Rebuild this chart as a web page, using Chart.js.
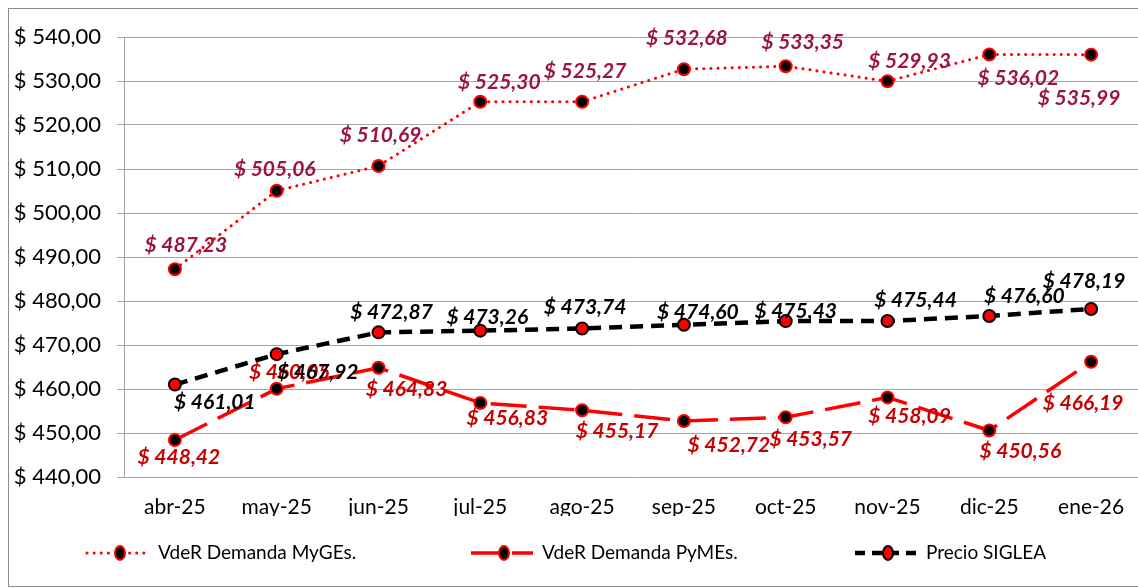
<!DOCTYPE html>
<html>
<head>
<meta charset="utf-8">
<script src="https://cdn.jsdelivr.net/npm/chart.js@4"></script>
<style>
  html, body { margin: 0; padding: 0; overflow: hidden; background: #fff; }
  #wrap { position: absolute; left: 0; top: 0; width: 1150px; height: 588px; }
</style>
</head>
<body>
<div id="wrap"><canvas id="myChart"></canvas></div>
<script>
const months = ["abr-25", "may-25", "jun-25", "jul-25", "ago-25", "sep-25", "oct-25", "nov-25", "dic-25", "ene-26"];
const mygesValues = [487.23, 505.06, 510.69, 525.30, 525.27, 532.68, 533.35, 529.93, 536.02, 535.99];
const pymesValues = [448.42, 460.05, 464.83, 456.83, 455.17, 452.72, 453.57, 458.09, 450.56, 466.19];
const sigleaValues = [461.01, 467.92, 472.87, 473.26, 473.74, 474.60, 475.43, 475.44, 476.60, 478.19];

// where each value label sits relative to its point (px)
const labelOffsets = [
  [[11, -24], [-2, -22], [2, -31], [19, -19], [3, -31], [3, -31], [17, -24], [22, -20], [29, 24], [-12, 44]],
  [[4, 17], [13, -17], [28, 21], [27, 15], [35, 21], [45, 24], [25, 22], [22, 19], [31, 21], [-8, 41]],
  [[40, 18], [41, 18], [13, -20], [7, -13], [3, -21], [14, -13], [10, -10], [28, -21], [35, -20], [-7, -28]],
];
const labelColors = ["#9b1446", "#c80000", "#000000"];
const legendX = [87, 471, 855];

const fmt = v => "$ " + v.toFixed(2).replace(".", ",");

const valueLabels = {
  id: "valueLabels",
  afterDatasetsDraw(chart) {
    const ctx = chart.ctx;
    ctx.save();
    ctx.font = "italic bold 21px Lato";
    ctx.textAlign = "center";
    ctx.textBaseline = "middle";
    chart.data.datasets.forEach((ds, i) => {
      ctx.fillStyle = labelColors[i];
      chart.getDatasetMeta(i).data.forEach((pt, j) => {
        const o = labelOffsets[i][j];
        ctx.fillText(fmt(ds.data[j]), pt.x + o[0], pt.y + o[1]);
      });
    });
    ctx.restore();
  },
  afterDraw(chart) {
    const ctx = chart.ctx;
    ctx.save();
    // frame
    ctx.strokeStyle = "#8c8c8c";
    ctx.lineWidth = 1;
    ctx.strokeRect(8.5, 8.5, 1200, 578);
    // legend
    const y = 553;
    chart.data.datasets.forEach((ds, i) => {
      const x = legendX[i];
      ctx.strokeStyle = ds.borderColor;
      ctx.lineWidth = ds.borderWidth;
      ctx.lineCap = i === 0 ? "round" : "butt";
      ctx.setLineDash(i === 0 ? [0.1, 7] : i === 1 ? [32, 9] : [10, 7]);
      ctx.beginPath();
      ctx.moveTo(x, y);
      ctx.lineTo(x + 62, y);
      ctx.stroke();
      ctx.setLineDash([]);
      ctx.fillStyle = ds.pointBackgroundColor;
      ctx.strokeStyle = ds.pointBorderColor;
      ctx.lineWidth = 2;
      ctx.beginPath();
      ctx.ellipse(x + 33, y, 5, 7, 0, 0, Math.PI * 2);
      ctx.fill();
      ctx.stroke();
      ctx.fillStyle = "#000";
      ctx.font = "19px Lato";
      ctx.textAlign = "left";
      ctx.textBaseline = "middle";
      ctx.fillText(ds.label, x + 71, y);
    });
    ctx.restore();
  },
};

const ctx = document.getElementById("myChart").getContext("2d");
const chart = new Chart(ctx, {
  type: "line",
  data: {
    labels: months,
    datasets: [
      {
        label: "VdeR Demanda MyGEs.",
        data: mygesValues,
        borderColor: "#ff0000",
        borderWidth: 3,
        borderDash: [0.1, 7],
        borderCapStyle: "round",
        pointBackgroundColor: "#000000",
        pointBorderColor: "#ff0000",
        pointBorderWidth: 2,
        pointRadius: 6,
        tension: 0,
      },
      {
        label: "VdeR Demanda PyMEs.",
        data: pymesValues,
        borderColor: "#ff0000",
        borderWidth: 3.5,
        borderDash: [36, 12],
        pointBackgroundColor: "#000000",
        pointBorderColor: "#ff0000",
        pointBorderWidth: 2,
        pointRadius: 6,
        tension: 0,
      },
      {
        label: "Precio SIGLEA",
        data: sigleaValues,
        borderColor: "#000000",
        borderWidth: 4.5,
        borderDash: [13, 8],
        pointBackgroundColor: "#ff0000",
        pointBorderColor: "#000000",
        pointBorderWidth: 2,
        pointRadius: 6,
        tension: 0,
      },
    ],
  },
  options: {
    responsive: true,
    maintainAspectRatio: false,
    animation: false,
    layout: { padding: { left: 0, right: 5, top: 37, bottom: 72 } },
    plugins: {
      legend: { display: false },
      tooltip: { enabled: false },
    },
    scales: {
      x: {
        offset: true,
        grid: { display: false },
        border: { display: false },
        ticks: { color: "#000", font: { family: "Lato", size: 21 }, padding: 10 },
        afterFit: s => { s.height = 39; },
      },
      y: {
        min: 440,
        max: 540,
        grid: { color: "#a6a6a6", lineWidth: 1, tickLength: 7, drawTicks: true },
        border: { display: true, color: "#a6a6a6" },
        ticks: {
          stepSize: 10,
          color: "#000",
          font: { family: "Lato", size: 22 },
          padding: 16,
          callback: v => fmt(v),
        },
        afterFit: s => { s.width = 124; },
      },
    },
  },
  plugins: [valueLabels],
});
</script>
</body>
</html>
